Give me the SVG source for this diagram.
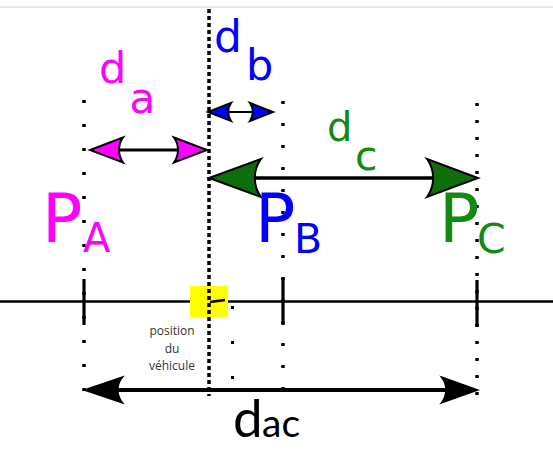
<svg xmlns="http://www.w3.org/2000/svg" width="553" height="449" viewBox="0 0 553 449">
<style>
.lbl{font-family:"DejaVu Sans",sans-serif}
.mag{fill:#ff00ff}
.blu{fill:#0000ff}
.grn{fill:#128a12}
.head{stroke:#000;stroke-width:2;stroke-linejoin:miter}
.shaft{stroke:#000;fill:none}
.dots{stroke:#000;fill:none;stroke-width:3.5}
.tick{stroke:#000;stroke-width:3.2;fill:none}
.veh{font-family:"Open Sans",sans-serif;font-size:12px;fill:#333340;text-anchor:middle}
</style>
<rect x="0" y="0" width="553" height="449" fill="#fff"/>
<line x1="0" y1="7" x2="553" y2="7" stroke="#dde3ea" stroke-width="1.5"/>

<g id="axis">
<line x1="0" y1="301.5" x2="553" y2="301.5" stroke="#000" stroke-width="2.5"/>
<line class="tick" x1="84" y1="279" x2="84" y2="325"/>
<line class="tick" x1="283" y1="278" x2="283" y2="325"/>
<line class="tick" x1="477" y1="280" x2="477" y2="327"/>
</g>

<g id="vehicule">
<rect x="190" y="286" width="38" height="31" fill="#ffff00"/>
<line x1="210" y1="302" x2="225" y2="300" stroke="#000" stroke-width="2.5"/>
<text class="veh" x="172" y="335">position</text>
<text class="veh" x="172" y="353">du</text>
<text class="veh" x="172" y="370">véhicule</text>
</g>

<g id="guides">
<line class="dots" x1="84" y1="100" x2="84" y2="394" stroke-width="3" stroke-dasharray="3 21"/>
<line class="dots" x1="209" y1="9" x2="209" y2="396" stroke-width="4" stroke-dasharray="4 3"/>
<line class="dots" x1="283" y1="101" x2="283" y2="396" stroke-width="3" stroke-dasharray="3 19"/>
<line class="dots" x1="477" y1="103" x2="477" y2="396" stroke-width="3" stroke-dasharray="3 14"/>
<rect x="231" y="306" width="3" height="3"/>
<rect x="231" y="341" width="3" height="3"/>
<rect x="231" y="376" width="3" height="3"/>
</g>

<g id="connectors">
<line class="shaft" x1="115" y1="150" x2="182" y2="150" stroke-width="3"/>
<path class="head mag" d="M123,137.5 L90,150 L123,162.5 C117.7,155 117.7,145 123,137.5Z"/>
<path class="head mag" d="M174,137.5 L207,150 L174,162.5 C179.3,155 179.3,145 174,137.5Z"/>

<line class="shaft" x1="228" y1="112" x2="254" y2="112" stroke-width="2"/>
<path class="head blu" stroke-width="1.5" d="M231,103 L208,112 L231,121 C227.3,115.6 227.3,108.4 231,103Z"/>
<path class="head blu" stroke-width="1.5" d="M250,103 L273,112 L250,121 C253.7,115.6 253.7,108.4 250,103Z"/>

<line class="shaft" x1="253" y1="178" x2="436" y2="178" stroke-width="3.5"/>
<path class="head" fill="#0e6e0e" d="M261,159 L209,178 L261,197 C252.7,185.6 252.7,170.4 261,159Z"/>
<path class="head" fill="#0e6e0e" d="M427,159 L478,178 L427,197 C435.2,185.6 435.2,170.4 427,159Z"/>

<line class="shaft" x1="114" y1="390" x2="450" y2="390" stroke-width="4"/>
<path class="head" fill="#000" d="M122,377.5 L85,390 L122,402.5 C116.1,395 116.1,385 122,377.5Z"/>
<path class="head" fill="#000" d="M442,377.5 L477,390 L442,402.5 C447.6,395 447.6,385 442,377.5Z"/>
</g>

<g id="label-da">
<text class="lbl mag" x="99" y="83" font-size="43">d</text>
<text class="lbl mag" x="129.5" y="113" font-size="42">a</text>
</g>
<g id="label-db">
<text class="lbl blu" x="214" y="52" font-size="44">d</text>
<text class="lbl blu" x="246" y="80" font-size="43">b</text>
</g>
<g id="label-dc">
<text class="lbl grn" x="327" y="141" font-size="40">d</text>
<text class="lbl grn" x="355" y="170" font-size="41">c</text>
</g>
<g id="node-PA">
<text class="lbl mag" x="42" y="242" font-size="67">P</text>
<text class="lbl mag" x="83" y="252" font-size="40">A</text>
</g>
<g id="node-PB">
<text class="lbl blu" x="255" y="242" font-size="67">P</text>
<text class="lbl blu" x="294" y="253" font-size="41">B</text>
</g>
<g id="node-PC">
<text class="lbl grn" x="439" y="242" font-size="67">P</text>
<text class="lbl grn" x="477" y="253" font-size="41">C</text>
</g>
<g id="label-dac">
<text x="233" y="437" font-family="Lato,sans-serif" font-size="53" fill="#000">d</text>
<text x="262" y="437" font-family="Lato,sans-serif" font-size="39" fill="#000">ac</text>
</g>
</svg>
